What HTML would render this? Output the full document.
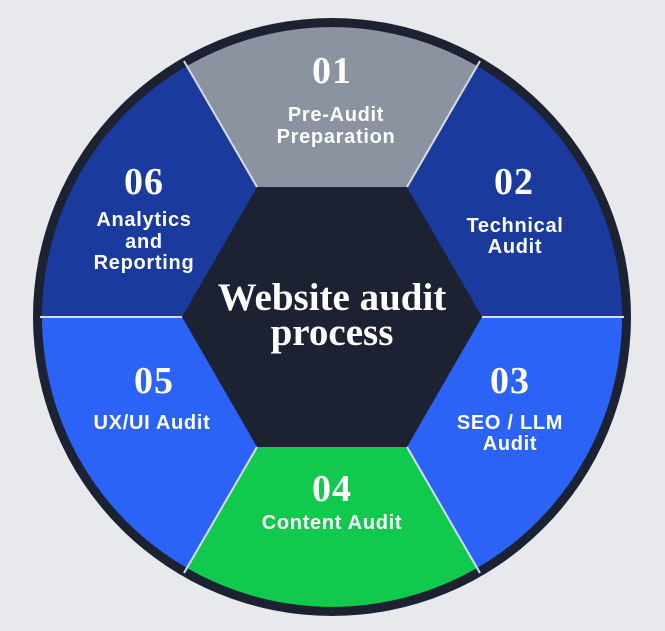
<!DOCTYPE html>
<html><head><meta charset="utf-8"><style>
html,body{margin:0;padding:0;background:#e8e9ed;}
svg{display:block}
.n{font-family:"Liberation Serif",serif;font-weight:bold;font-size:38px;fill:#fff;text-anchor:middle;letter-spacing:1px}
.l{font-family:"Liberation Sans",sans-serif;font-weight:bold;font-size:20px;fill:#fff;text-anchor:middle;letter-spacing:0.7px}
.c{font-family:"Liberation Serif",serif;font-weight:bold;font-size:39px;fill:#fff;text-anchor:middle}
</style></head><body>
<svg width="665" height="631" viewBox="0 0 665 631">
<rect width="665" height="631" fill="#e8e9ed"/>
<circle cx="332" cy="317" r="299" fill="#1d2232"/>
<g>
<path d="M332 317 L187 66 A290 290 0 0 1 477 66 Z" fill="#8a939f"/>
<path d="M332 317 L477 66 A290 290 0 0 1 622 317 Z" fill="#1a3a9e"/>
<path d="M332 317 L622 317 A290 290 0 0 1 477 568 Z" fill="#2a63f5"/>
<path d="M332 317 L477 568 A290 290 0 0 1 187 568 Z" fill="#11c94c"/>
<path d="M332 317 L187 568 A290 290 0 0 1 42 317 Z" fill="#2a63f5"/>
<path d="M332 317 L42 317 A290 290 0 0 1 187 66 Z" fill="#1a3a9e"/>
</g>
<g stroke="#d8dce3" stroke-width="2">
<line x1="257" y1="187" x2="184" y2="61"/>
<line x1="407" y1="187" x2="480" y2="61"/>
<line x1="482" y1="317" x2="624" y2="317"/>
<line x1="407" y1="447" x2="480" y2="573"/>
<line x1="257" y1="447" x2="184" y2="573"/>
<line x1="182" y1="317" x2="40" y2="317"/>
</g>
<polygon points="257,187 407,187 482,317 407,447 257,447 182,317" fill="#1d2232"/>
<text class="c" x="332" y="310">Website audit</text>
<text class="c" x="332" y="345">process</text>
<text class="n" x="332" y="83">01</text>
<text class="l" x="336" y="121">Pre-Audit</text>
<text class="l" x="336" y="143">Preparation</text>
<text class="n" x="514" y="194">02</text>
<text class="l" x="515" y="232">Technical</text>
<text class="l" x="515" y="253">Audit</text>
<text class="n" x="510" y="393">03</text>
<text class="l" x="510" y="429">SEO / LLM</text>
<text class="l" x="510" y="450">Audit</text>
<text class="n" x="332" y="501">04</text>
<text class="l" x="332" y="529">Content Audit</text>
<text class="n" x="154" y="393">05</text>
<text class="l" x="152" y="429">UX/UI Audit</text>
<text class="n" x="144" y="194">06</text>
<text class="l" x="144" y="226">Analytics</text>
<text class="l" x="144" y="248">and</text>
<text class="l" x="144" y="269">Reporting</text>
</svg>
</body></html>
